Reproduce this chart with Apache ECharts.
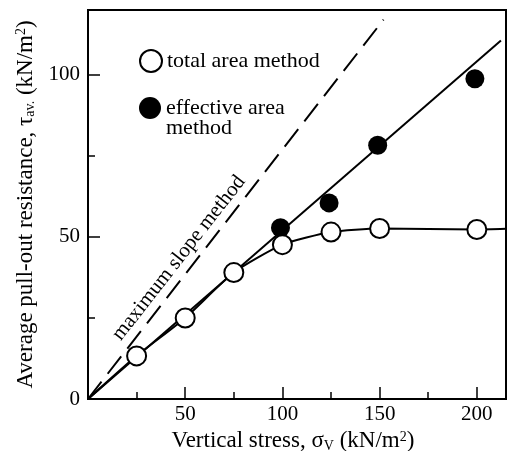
<!DOCTYPE html>
<html>
<head>
<meta charset="utf-8">
<script src="https://cdn.jsdelivr.net/npm/echarts@6/dist/echarts.min.js"></script>
<style>
  html, body { margin: 0; padding: 0; background: #fff; }
  #chart { width: 509px; height: 451px; }
</style>
</head>
<body>
<div id="chart"></div>
<script>
const totalStress = [25, 50, 75, 100, 125, 150, 200]
const totalTau = [13.3, 25, 39, 47.6, 51.5, 52.6, 52.3]
const effStress = [99, 124, 149, 199]
const effTau = [52.8, 60.5, 78.3, 98.8]

// drawn curves
const curveStress = [0, 25, 50, 75, 100, 125, 150, 200, 215]
const curveTau = [0, 13.3, 25, 39, 47.6, 51.5, 52.6, 52.3, 52.5]
const fitStress = [0, 212.4]
const fitTau = [0, 110.6]
const maxSlopeStress = [0, 152]
const maxSlopeTau = [0, 117]

const xMajorTicks = [50, 100, 150, 200]
const xMinorTicks = [25, 75, 125, 175]
const yMajorTicks = [0, 50, 100]
const yMinorTicks = [25, 75]

const FONT = 'Liberation Serif'

const pairs = (xs, ys) => xs.map((x, i) => [x, ys[i]])

const chart = echarts.init(document.getElementById('chart'))

const axisBase = {
  type: 'value',
  splitLine: { show: false },
  axisLine: { lineStyle: { color: '#000', width: 2 } },
}

//轴标题的上下标
const titleRich = {
  t: { fontFamily: FONT, fontSize: 23, color: '#000' },
  s: { fontFamily: FONT, fontSize: 14, color: '#000', padding: [9, 0, 0, 0] },
  p: { fontFamily: FONT, fontSize: 14, color: '#000', padding: [0, 0, 9, 0] },
}

chart.setOption({
  backgroundColor: '#fff',
  animation: false,
  grid: {
    left: 88, top: 10, right: 3, bottom: 52,
    outerBoundsMode: 'none',
    show: true, borderColor: '#000', borderWidth: 2,
  },
  legend: [
    {
      data: ['total area method'],
      left: 139, top: 49, padding: 0,
      itemWidth: 22, itemHeight: 22,
      textStyle: { fontFamily: FONT, fontSize: 22, color: '#000' },
    },
    {
      data: ['effective area method'],
      left: 139, top: 77, padding: 0,
      itemWidth: 22, itemHeight: 22,
      // empty first line so that "effective area" sits level with the dot
      formatter: () => '\neffective area\nmethod',
      textStyle: { fontFamily: FONT, fontSize: 22, color: '#000', lineHeight: 20 },
    },
  ],
  xAxis: [
    {
      ...axisBase,
      min: 0, max: 215,
      position: 'bottom',
      axisTick: { inside: true, length: 12, customValues: xMajorTicks, lineStyle: { color: '#000', width: 1.5 } },
      axisLabel: { customValues: xMajorTicks, margin: 5, fontFamily: FONT, fontSize: 21, color: '#000' },
      name: '{t|Vertical stress, σ}{s|V}{t| (kN/m}{p|2}{t|)}',
      nameLocation: 'middle',
      nameGap: 25,
      nameTextStyle: { rich: titleRich, padding: [0, 8, 0, 0] },
    },
    {
      ...axisBase,
      min: 0, max: 215,
      position: 'bottom',
      axisLine: { show: false },
      axisTick: { inside: true, length: 7, customValues: xMinorTicks, lineStyle: { color: '#000', width: 1.5 } },
      axisLabel: { show: false },
    },
  ],
  yAxis: [
    {
      ...axisBase,
      min: 0, max: 120,
      position: 'left',
      axisTick: { inside: true, length: 12, customValues: yMajorTicks, lineStyle: { color: '#000', width: 1.5 } },
      axisLabel: { customValues: yMajorTicks, margin: 8, fontFamily: FONT, fontSize: 21, color: '#000' },
      name: '{t|Average pull-out resistance, τ}{s|av.}{t| (kN/m}{p|2}{t|)}',
      nameLocation: 'middle',
      nameGap: 46,
      nameTextStyle: { rich: titleRich },
    },
    {
      ...axisBase,
      min: 0, max: 120,
      position: 'left',
      axisLine: { show: false },
      axisTick: { inside: true, length: 7, customValues: yMinorTicks, lineStyle: { color: '#000', width: 1.5 } },
      axisLabel: { show: false },
    },
  ],
  graphic: [
    {
      type: 'text',
      x: 179, y: 258,
      rotation: 52 * Math.PI / 180,
      style: {
        text: 'maximum slope method',
        fontFamily: FONT, fontSize: 21, fill: '#000',
        align: 'center', verticalAlign: 'middle',
      },
    },
  ],
  series: [
    {
      type: 'line',
      data: pairs(maxSlopeStress, maxSlopeTau),
      showSymbol: false,
      lineStyle: { color: '#000', width: 2, type: [22, 10] },
      silent: true,
      z: 1,
    },
    {
      type: 'line',
      data: pairs(fitStress, fitTau),
      showSymbol: false,
      lineStyle: { color: '#000', width: 2 },
      silent: true,
      z: 1,
    },
    {
      type: 'line',
      data: pairs(curveStress, curveTau),
      showSymbol: false,
      smooth: 0.2,
      lineStyle: { color: '#000', width: 2 },
      silent: true,
      z: 1,
    },
    {
      name: 'effective area method',
      type: 'scatter',
      data: pairs(effStress, effTau),
      symbol: 'circle',
      symbolSize: 19,
      itemStyle: { color: '#000', opacity: 1 },
      z: 3,
    },
    {
      name: 'total area method',
      type: 'scatter',
      data: pairs(totalStress, totalTau),
      symbol: 'circle',
      symbolSize: 19,
      itemStyle: { color: '#fff', borderColor: '#000', borderWidth: 2, opacity: 1 },
      z: 4,
    },
  ],
})
</script>
</body>
</html>
